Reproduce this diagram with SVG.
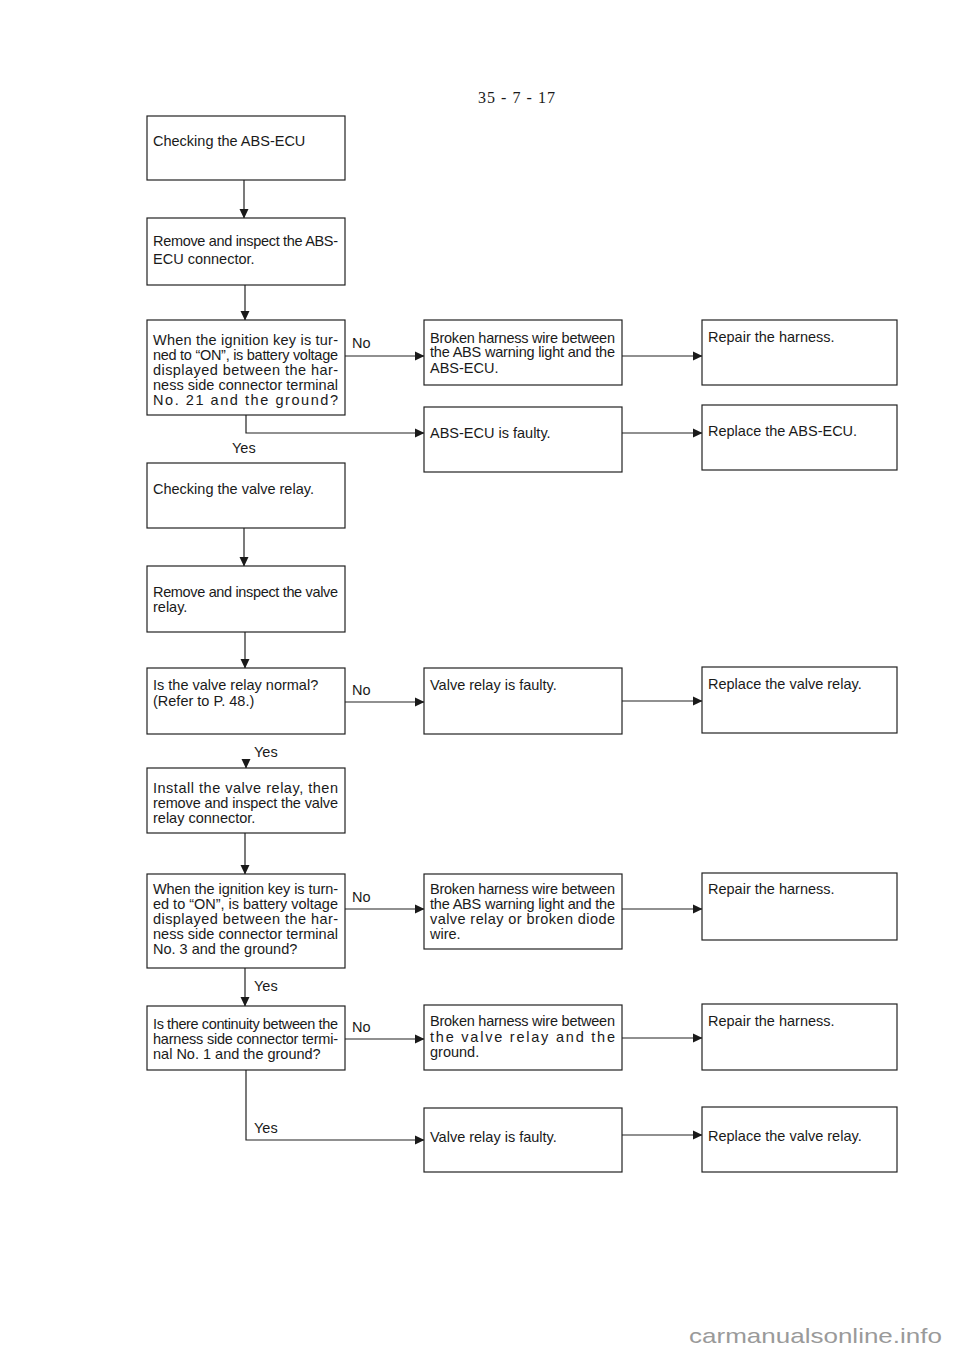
<svg xmlns="http://www.w3.org/2000/svg" width="960" height="1357" viewBox="0 0 960 1357">
<defs>
<marker id="ah" markerUnits="userSpaceOnUse" markerWidth="10" markerHeight="10" refX="9" refY="5" orient="auto">
<path d="M0,0.5 L9.5,5 L0,9.5 z" fill="#1a1a1a"/>
</marker>
<style>
.box{fill:#fff;stroke:#222;stroke-width:1.2}
.t{font-family:"Liberation Sans",Arial,sans-serif;font-size:14.5px;fill:#1a1a1a}
.c{fill:none;stroke:#222;stroke-width:1.2}
.a{fill:none;stroke:#222;stroke-width:1.2;marker-end:url(#ah)}
</style>
</defs>
<rect width="960" height="1357" fill="#fff"/>
<text x="478" y="103" font-family="Liberation Serif,serif" font-size="16" fill="#1a1a1a" textLength="77" lengthAdjust="spacing">35 - 7 - 17</text>

<g id="connectors">
<line class="a" x1="244" y1="180" x2="244" y2="218"/>
<line class="a" x1="245" y1="285" x2="245" y2="320"/>
<line class="a" x1="345" y1="356" x2="424" y2="356"/>
<line class="a" x1="622" y1="356" x2="702" y2="356"/>
<polyline class="a" points="246,415 246,433 424,433"/>
<line class="a" x1="622" y1="433" x2="702" y2="433"/>
<line class="a" x1="244" y1="528" x2="244" y2="566"/>
<line class="a" x1="245" y1="632" x2="245" y2="668"/>
<line class="a" x1="345" y1="702" x2="424" y2="702"/>
<line class="a" x1="622" y1="701" x2="702" y2="701"/>
<line class="a" x1="246" y1="759" x2="246" y2="768"/>
<line class="a" x1="245" y1="833" x2="245" y2="874"/>
<line class="a" x1="345" y1="909" x2="424" y2="909"/>
<line class="a" x1="622" y1="909" x2="702" y2="909"/>
<line class="a" x1="245" y1="968" x2="245" y2="1006"/>
<line class="a" x1="345" y1="1039" x2="424" y2="1039"/>
<line class="a" x1="622" y1="1038" x2="702" y2="1038"/>
<polyline class="a" points="246,1070 246,1140 424,1140"/>
<line class="a" x1="622" y1="1135" x2="702" y2="1135"/>
<text class="t" x="352" y="348">No</text>
<text class="t" x="232" y="453">Yes</text>
<text class="t" x="352" y="695">No</text>
<text class="t" x="254" y="757">Yes</text>
<text class="t" x="352" y="902">No</text>
<text class="t" x="254" y="991">Yes</text>
<text class="t" x="352" y="1032">No</text>
<text class="t" x="254" y="1133">Yes</text>
</g>

<g id="n1"><rect class="box" x="147" y="116" width="198" height="64"/>
<text class="t" x="153" y="146">Checking the ABS-ECU</text></g>

<g id="n2"><rect class="box" x="147" y="218" width="198" height="67"/>
<text class="t" x="153" y="246" textLength="185" lengthAdjust="spacing">Remove and inspect the ABS-</text>
<text class="t" x="153" y="264">ECU connector.</text></g>

<g id="n3"><rect class="box" x="147" y="320" width="198" height="95"/>
<text class="t" x="153" y="345" textLength="185" lengthAdjust="spacing">When the ignition key is tur-</text>
<text class="t" x="153" y="360" textLength="185" lengthAdjust="spacing">ned to “ON”, is battery voltage</text>
<text class="t" x="153" y="375" textLength="185" lengthAdjust="spacing">displayed between the har-</text>
<text class="t" x="153" y="390" textLength="185" lengthAdjust="spacing">ness side connector terminal</text>
<text class="t" x="153" y="405" textLength="185" lengthAdjust="spacing">No. 21 and the ground?</text></g>

<g id="n4"><rect class="box" x="424" y="320" width="198" height="65"/>
<text class="t" x="430" y="343" textLength="185" lengthAdjust="spacing">Broken harness wire between</text>
<text class="t" x="430" y="357" textLength="185" lengthAdjust="spacing">the ABS warning light and the</text>
<text class="t" x="430" y="373">ABS-ECU.</text></g>

<g id="n5"><rect class="box" x="702" y="320" width="195" height="65"/>
<text class="t" x="708" y="342">Repair the harness.</text></g>

<g id="n6"><rect class="box" x="424" y="407" width="198" height="65"/>
<text class="t" x="430" y="438">ABS-ECU is faulty.</text></g>

<g id="n7"><rect class="box" x="702" y="405" width="195" height="65"/>
<text class="t" x="708" y="436">Replace the ABS-ECU.</text></g>

<g id="n8"><rect class="box" x="147" y="463" width="198" height="65"/>
<text class="t" x="153" y="494">Checking the valve relay.</text></g>

<g id="n9"><rect class="box" x="147" y="566" width="198" height="66"/>
<text class="t" x="153" y="597" textLength="185" lengthAdjust="spacing">Remove and inspect the valve</text>
<text class="t" x="153" y="612">relay.</text></g>

<g id="n10"><rect class="box" x="147" y="668" width="198" height="66"/>
<text class="t" x="153" y="690">Is the valve relay normal?</text>
<text class="t" x="153" y="706">(Refer to P. 48.)</text></g>

<g id="n11"><rect class="box" x="424" y="668" width="198" height="66"/>
<text class="t" x="430" y="690">Valve relay is faulty.</text></g>

<g id="n12"><rect class="box" x="702" y="667" width="195" height="66"/>
<text class="t" x="708" y="689">Replace the valve relay.</text></g>

<g id="n13"><rect class="box" x="147" y="768" width="198" height="65"/>
<text class="t" x="153" y="793" textLength="185" lengthAdjust="spacing">Install the valve relay, then</text>
<text class="t" x="153" y="808" textLength="185" lengthAdjust="spacing">remove and inspect the valve</text>
<text class="t" x="153" y="823">relay connector.</text></g>

<g id="n14"><rect class="box" x="147" y="874" width="198" height="94"/>
<text class="t" x="153" y="894" textLength="185" lengthAdjust="spacing">When the ignition key is turn-</text>
<text class="t" x="153" y="909" textLength="185" lengthAdjust="spacing">ed to “ON”, is battery voltage</text>
<text class="t" x="153" y="924" textLength="185" lengthAdjust="spacing">displayed between the har-</text>
<text class="t" x="153" y="939" textLength="185" lengthAdjust="spacing">ness side connector terminal</text>
<text class="t" x="153" y="954">No. 3 and the ground?</text></g>

<g id="n15"><rect class="box" x="424" y="874" width="198" height="75"/>
<text class="t" x="430" y="894" textLength="185" lengthAdjust="spacing">Broken harness wire between</text>
<text class="t" x="430" y="909" textLength="185" lengthAdjust="spacing">the ABS warning light and the</text>
<text class="t" x="430" y="924" textLength="185" lengthAdjust="spacing">valve relay or broken diode</text>
<text class="t" x="430" y="939">wire.</text></g>

<g id="n16"><rect class="box" x="702" y="873" width="195" height="67"/>
<text class="t" x="708" y="894">Repair the harness.</text></g>

<g id="n17"><rect class="box" x="147" y="1006" width="198" height="64"/>
<text class="t" x="153" y="1029" textLength="185" lengthAdjust="spacing">Is there continuity between the</text>
<text class="t" x="153" y="1044" textLength="185" lengthAdjust="spacing">harness side connector termi-</text>
<text class="t" x="153" y="1059">nal No. 1 and the ground?</text></g>

<g id="n18"><rect class="box" x="424" y="1005" width="198" height="65"/>
<text class="t" x="430" y="1026" textLength="185" lengthAdjust="spacing">Broken harness wire between</text>
<text class="t" x="430" y="1042" textLength="185" lengthAdjust="spacing">the valve relay and the</text>
<text class="t" x="430" y="1057">ground.</text></g>

<g id="n19"><rect class="box" x="702" y="1004" width="195" height="66"/>
<text class="t" x="708" y="1026">Repair the harness.</text></g>

<g id="n20"><rect class="box" x="424" y="1108" width="198" height="64"/>
<text class="t" x="430" y="1142">Valve relay is faulty.</text></g>

<g id="n21"><rect class="box" x="702" y="1107" width="195" height="65"/>
<text class="t" x="708" y="1141">Replace the valve relay.</text></g>

<text x="689" y="1343" font-family="Liberation Sans,Arial,sans-serif" font-size="21" fill="#9a9a9a" textLength="253" lengthAdjust="spacingAndGlyphs">carmanualsonline.info</text>
</svg>
